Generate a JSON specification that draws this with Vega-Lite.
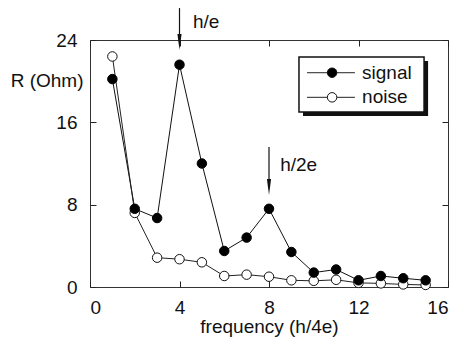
{
  "$schema": "https://vega.github.io/schema/vega-lite/v6.json",
  "width": 358,
  "height": 247,
  "autosize": {"type": "none"},
  "padding": {"left": 90, "top": 40, "right": 12, "bottom": 50},
  "background": "white",
  "config": {
    "font": "Liberation Sans",
    "view": {"stroke": "#333", "strokeWidth": 1},
    "axis": {
      "grid": false,
      "domain": false,
      "tickColor": "#222",
      "tickSize": -6,
      "labelFont": "Liberation Sans",
      "labelFontSize": 19,
      "labelColor": "#111",
      "titleFont": "Liberation Sans",
      "titleFontSize": 19,
      "titleFontWeight": "normal",
      "titleColor": "#111"
    }
  },
  "datasets": {
    "series": [
      {"x": 1, "y": 20.2, "s": "signal"},
      {"x": 2, "y": 7.6, "s": "signal"},
      {"x": 3, "y": 6.7, "s": "signal"},
      {"x": 4, "y": 21.6, "s": "signal"},
      {"x": 5, "y": 12.0, "s": "signal"},
      {"x": 6, "y": 3.5, "s": "signal"},
      {"x": 7, "y": 4.8, "s": "signal"},
      {"x": 8, "y": 7.6, "s": "signal"},
      {"x": 9, "y": 3.4, "s": "signal"},
      {"x": 10, "y": 1.4, "s": "signal"},
      {"x": 11, "y": 1.7, "s": "signal"},
      {"x": 12, "y": 0.65, "s": "signal"},
      {"x": 13, "y": 1.07, "s": "signal"},
      {"x": 14, "y": 0.85, "s": "signal"},
      {"x": 15, "y": 0.65, "s": "signal"},
      {"x": 1, "y": 22.4, "s": "noise"},
      {"x": 2, "y": 7.2, "s": "noise"},
      {"x": 3, "y": 2.85, "s": "noise"},
      {"x": 4, "y": 2.7, "s": "noise"},
      {"x": 5, "y": 2.4, "s": "noise"},
      {"x": 6, "y": 1.07, "s": "noise"},
      {"x": 7, "y": 1.2, "s": "noise"},
      {"x": 8, "y": 1.0, "s": "noise"},
      {"x": 9, "y": 0.65, "s": "noise"},
      {"x": 10, "y": 0.6, "s": "noise"},
      {"x": 11, "y": 0.7, "s": "noise"},
      {"x": 12, "y": 0.4, "s": "noise"},
      {"x": 13, "y": 0.35, "s": "noise"},
      {"x": 14, "y": 0.25, "s": "noise"},
      {"x": 15, "y": 0.2, "s": "noise"}
    ],
    "arrows": [
      {"x": 4, "y": 27.1, "y2": 23.8, "yh": 23.8, "tx": 4.6, "ty": 25.75, "t": "h/e"},
      {"x": 8, "y": 13.6, "y2": 9.72, "yh": 9.72, "tx": 8.5, "ty": 11.85, "t": "h/2e"}
    ],
    "legendbox": [
      {"x": 9.34, "x2": 14.93, "y": 22.35, "y2": 17.0, "sx": 9.52, "sx2": 15.11, "sy": 21.96, "sy2": 16.61}
    ],
    "legenditems": [
      {"x": 9.7, "x2": 11.84, "xm": 10.82, "tx": 12.16, "y": 20.82, "t": "signal", "s": "signal"},
      {"x": 9.7, "x2": 11.84, "xm": 10.82, "tx": 12.16, "y": 18.43, "t": "noise", "s": "noise"}
    ]
  },
  "layer": [
    {
      "layer": [
        {
          "data": {"name": "series"},
          "transform": [{"filter": "datum.s === 'signal'"}],
          "mark": {"type": "line", "color": "#111", "strokeWidth": 1},
          "encoding": {
            "x": {
              "field": "x", "type": "quantitative",
              "scale": {"domain": [0, 16], "nice": false},
              "axis": {"values": [0, 4, 8, 12, 16], "title": "frequency (h/4e)", "labelPadding": 17, "titlePadding": 0}
            },
            "y": {
              "field": "y", "type": "quantitative",
              "scale": {"domain": [0, 24], "nice": false},
              "axis": {"values": [0, 8, 16, 24], "title": "R (Ohm)", "labelPadding": 19, "titleAngle": 0, "titleAlign": "right", "titleBaseline": "middle", "titleX": -7, "titleY": 40}
            }
          }
        },
        {
          "data": {"name": "series"},
          "transform": [{"filter": "datum.s === 'noise'"}],
          "mark": {"type": "line", "color": "#222", "strokeWidth": 1},
          "encoding": {
            "x": {"field": "x", "type": "quantitative"},
            "y": {"field": "y", "type": "quantitative"}
          }
        },
        {
          "data": {"name": "series"},
          "transform": [{"filter": "datum.s === 'noise'"}],
          "mark": {"type": "point", "shape": "circle", "filled": true, "fill": "white", "stroke": "#111", "strokeWidth": 1, "size": 90, "opacity": 1},
          "encoding": {
            "x": {"field": "x", "type": "quantitative"},
            "y": {"field": "y", "type": "quantitative"}
          }
        },
        {
          "data": {"name": "series"},
          "transform": [{"filter": "datum.s === 'signal'"}],
          "mark": {"type": "point", "shape": "circle", "filled": true, "fill": "#000", "stroke": "#000", "strokeWidth": 1, "size": 90, "opacity": 1},
          "encoding": {
            "x": {"field": "x", "type": "quantitative"},
            "y": {"field": "y", "type": "quantitative"}
          }
        },
        {
          "data": {"name": "arrows"},
          "mark": {"type": "rule", "color": "#111", "strokeWidth": 1.2},
          "encoding": {
            "x": {"field": "x", "type": "quantitative"},
            "y": {"field": "y", "type": "quantitative"},
            "y2": {"field": "y2"}
          }
        },
        {
          "data": {"name": "arrows"},
          "mark": {"type": "point", "shape": "M-0.26,-1L0.26,-1L0,1Z", "filled": true, "fill": "#111", "size": 256, "opacity": 1},
          "encoding": {
            "x": {"field": "x", "type": "quantitative"},
            "y": {"field": "yh", "type": "quantitative"}
          }
        },
        {
          "data": {"name": "arrows"},
          "mark": {"type": "text", "align": "left", "baseline": "middle", "fontSize": 19, "font": "Liberation Sans", "color": "#111"},
          "encoding": {
            "x": {"field": "tx", "type": "quantitative"},
            "y": {"field": "ty", "type": "quantitative"},
            "text": {"field": "t"}
          }
        },
        {
          "data": {"name": "legendbox"},
          "mark": {"type": "rect", "fill": "#111"},
          "encoding": {
            "x": {"field": "sx", "type": "quantitative"},
            "x2": {"field": "sx2"},
            "y": {"field": "sy", "type": "quantitative"},
            "y2": {"field": "sy2"}
          }
        },
        {
          "data": {"name": "legendbox"},
          "mark": {"type": "rect", "fill": "white", "stroke": "#111", "strokeWidth": 1.5},
          "encoding": {
            "x": {"field": "x", "type": "quantitative"},
            "x2": {"field": "x2"},
            "y": {"field": "y", "type": "quantitative"},
            "y2": {"field": "y2"}
          }
        },
        {
          "data": {"name": "legenditems"},
          "mark": {"type": "rule", "color": "#222", "strokeWidth": 1},
          "encoding": {
            "x": {"field": "x", "type": "quantitative"},
            "x2": {"field": "x2"},
            "y": {"field": "y", "type": "quantitative"}
          }
        },
        {
          "data": {"name": "legenditems"},
          "mark": {"type": "point", "shape": "circle", "filled": true, "stroke": "#111", "strokeWidth": 1, "size": 90, "opacity": 1},
          "encoding": {
            "x": {"field": "xm", "type": "quantitative"},
            "y": {"field": "y", "type": "quantitative"},
            "fill": {"field": "s", "type": "nominal", "scale": {"domain": ["signal", "noise"], "range": ["#000", "#fff"]}, "legend": null}
          }
        },
        {
          "data": {"name": "legenditems"},
          "mark": {"type": "text", "align": "left", "baseline": "middle", "fontSize": 19, "font": "Liberation Sans", "color": "#111"},
          "encoding": {
            "x": {"field": "tx", "type": "quantitative"},
            "y": {"field": "y", "type": "quantitative"},
            "text": {"field": "t"}
          }
        }
      ]
    },
    {
      "data": {"values": [{"x": 0, "y": 0}, {"x": 16, "y": 24}]},
      "mark": {"type": "point", "opacity": 0},
      "encoding": {
        "x": {
          "field": "x", "type": "quantitative",
          "scale": {"domain": [0, 16], "nice": false},
          "axis": {"orient": "top", "values": [0, 4, 8, 12, 16], "labels": false, "title": null}
        },
        "y": {
          "field": "y", "type": "quantitative",
          "scale": {"domain": [0, 24], "nice": false},
          "axis": {"orient": "right", "values": [0, 8, 16, 24], "labels": false, "title": null}
        }
      }
    }
  ],
  "resolve": {"scale": {"x": "independent", "y": "independent"}}
}
